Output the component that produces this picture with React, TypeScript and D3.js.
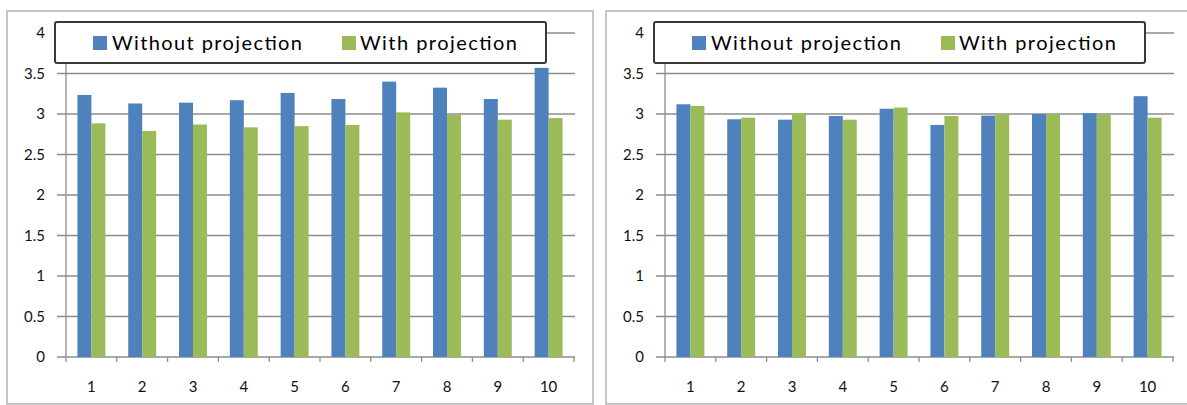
import React from "react";
import * as d3 from "d3";

const categories = ["1", "2", "3", "4", "5", "6", "7", "8", "9", "10"];
const seriesNames = ["Without projection", "With projection"];
const leftWithout = [3.235, 3.13, 3.14, 3.17, 3.26, 3.185, 3.4, 3.325, 3.185, 3.57];
const leftWith = [2.885, 2.79, 2.87, 2.835, 2.85, 2.865, 3.02, 2.99, 2.93, 2.95];
const rightWithout = [3.12, 2.935, 2.93, 2.975, 3.065, 2.865, 2.98, 3.0, 3.01, 3.22];
const rightWith = [3.1, 2.955, 3.01, 2.93, 3.08, 2.975, 2.99, 3.0, 2.99, 2.955];
const yTicks = [0, 0.5, 1, 1.5, 2, 2.5, 3, 3.5, 4];
const colors = ["#4F81BD", "#9BBB59"];

const FONT = "Lato, 'Liberation Sans', sans-serif";

function Panel({ ox, without, withP }: { ox: number; without: number[]; withP: number[] }) {
  const x0 = 66;
  const x1 = 574;
  const y = d3.scaleLinear().domain([0, 4]).range([357, 33]);
  const x = d3
    .scaleBand<string>()
    .domain(categories)
    .range([x0, x1])
    .paddingInner(0.45)
    .paddingOuter(0.225);
  const inner = d3.scaleBand<number>().domain([0, 1]).range([0, x.bandwidth()]);
  const step = (x1 - x0) / categories.length;
  const series = [without, withP];
  return (
    <g transform={`translate(${ox},0)`}>
      <rect x={7} y={11} width={586} height={393} fill="#fff" stroke="#B4B4B4" strokeWidth={1.5} />
      {yTicks.map((t) => (
        <g key={t}>
          <line x1={57} x2={575} y1={y(t)} y2={y(t)} stroke="#8C8C8C" strokeWidth={1.3} />
          <text
            x={45}
            y={y(t)}
            dy="0.35em"
            textAnchor="end"
            fontFamily={FONT}
            fontSize={15}
            fill="#111"
          >
            {String(t)}
          </text>
        </g>
      ))}
      <line x1={x0} x2={x0} y1={y(4)} y2={y(0)} stroke="#8C8C8C" strokeWidth={1.3} />
      {d3.range(categories.length + 1).map((i) => (
        <line
          key={i}
          x1={x0 + i * step}
          x2={x0 + i * step}
          y1={y(0)}
          y2={y(0) + 5}
          stroke="#8C8C8C"
          strokeWidth={1.3}
        />
      ))}
      {series.map((vals, si) =>
        vals.map((v, i) => (
          <rect
            key={`${si}-${i}`}
            x={(x(categories[i]) as number) + (inner(si) as number)}
            y={y(v)}
            width={inner.bandwidth()}
            height={y(0) - y(v)}
            fill={colors[si]}
          />
        ))
      )}
      {categories.map((c) => (
        <text
          key={c}
          x={(x(c) as number) + x.bandwidth() / 2}
          y={387}
          dy="0.35em"
          textAnchor="middle"
          fontFamily={FONT}
          fontSize={15}
          fill="#111"
        >
          {c}
        </text>
      ))}
      <rect x={55} y={22} width={491} height={41} rx={2} fill="#fff" stroke="#3A3A3A" strokeWidth={2} />
      <rect x={93} y={36} width={14} height={14} fill={colors[0]} />
      <text x={112} y={43} dy="0.35em" fontFamily={FONT} fontSize={20} fill="#000" textLength={190} lengthAdjust="spacing">
        {seriesNames[0]}
      </text>
      <rect x={342} y={36} width={14} height={14} fill={colors[1]} />
      <text x={360} y={43} dy="0.35em" fontFamily={FONT} fontSize={20} fill="#000" textLength={157} lengthAdjust="spacing">
        {seriesNames[1]}
      </text>
    </g>
  );
}

export default function App() {
  return (
    <svg
      width={1187}
      height={405}
      style={{ position: "absolute", left: 0, top: 0, background: "#fff" }}
    >
      <rect x={0} y={0} width={1187} height={405} fill="#fff" />
      <Panel ox={0} without={leftWithout} withP={leftWith} />
      <Panel ox={599} without={rightWithout} withP={rightWith} />
    </svg>
  );
}
